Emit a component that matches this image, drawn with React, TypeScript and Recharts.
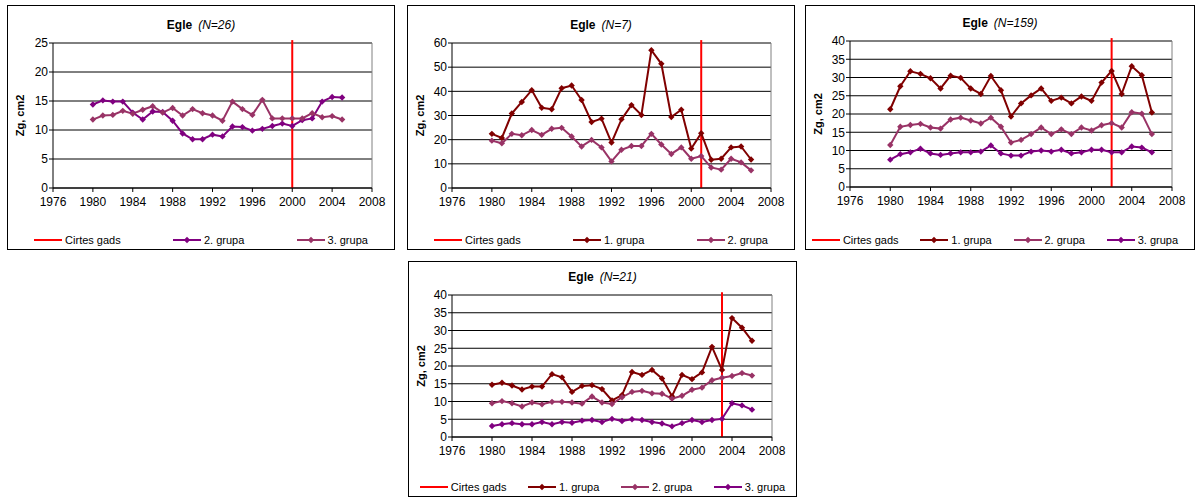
import { LineChart, Line, XAxis, YAxis, CartesianGrid, Legend, ReferenceLine } from 'recharts';

const FONT = 'Arial, "Liberation Sans", sans-serif';

const yearsTo2005 = [1980, 1981, 1982, 1983, 1984, 1985, 1986, 1987, 1988, 1989, 1990, 1991, 1992, 1993, 1994, 1995, 1996, 1997, 1998, 1999, 2000, 2001, 2002, 2003, 2004, 2005];
const yearsTo2006 = [1980, 1981, 1982, 1983, 1984, 1985, 1986, 1987, 1988, 1989, 1990, 1991, 1992, 1993, 1994, 1995, 1996, 1997, 1998, 1999, 2000, 2001, 2002, 2003, 2004, 2005, 2006];
const xTicks = [1976, 1980, 1984, 1988, 1992, 1996, 2000, 2004, 2008];

// Egle (N=26)
const n26Cut = 2000;
const n26YTicks = [0, 5, 10, 15, 20, 25];
const n26Group2 = [14.4, 15.1, 14.9, 14.9, 13.0, 11.8, 13.2, 13.1, 11.6, 9.4, 8.4, 8.4, 9.2, 8.9, 10.6, 10.5, 9.9, 10.2, 10.7, 11.1, 10.7, 11.7, 12.0, 14.9, 15.7, 15.6];
const n26Group3 = [11.8, 12.5, 12.6, 13.3, 12.8, 13.5, 14.1, 13.0, 13.8, 12.5, 13.6, 12.9, 12.5, 11.6, 14.9, 13.6, 12.6, 15.2, 12.0, 12.0, 12.0, 12.0, 12.9, 12.2, 12.4, 11.8];

// Egle (N=7)
const n7Cut = 2001;
const n7YTicks = [0, 10, 20, 30, 40, 50, 60];
const n7Group1 = [22.4, 20.7, 30.8, 35.6, 40.5, 33.2, 32.6, 41.3, 42.4, 36.4, 27.3, 28.7, 18.8, 28.4, 34.3, 30.2, 57.0, 51.4, 29.4, 32.4, 16.3, 22.7, 11.7, 12.1, 16.8, 17.2, 11.8];
const n7Group2 = [19.6, 18.5, 22.4, 21.8, 24.0, 22.0, 24.5, 24.9, 21.3, 17.2, 19.9, 16.8, 11.0, 15.8, 17.4, 17.4, 22.4, 18.0, 14.1, 16.8, 12.1, 13.2, 8.5, 7.6, 12.1, 10.6, 7.3];

// Egle (N=159)
const n159Cut = 2002;
const n159YTicks = [0, 5, 10, 15, 20, 25, 30, 35, 40];
const n159Group1 = [21.3, 27.6, 31.7, 31.0, 29.8, 27.0, 30.5, 29.9, 27.0, 25.5, 30.4, 26.5, 19.3, 22.9, 25.1, 27.0, 23.6, 24.5, 22.9, 24.8, 23.6, 28.6, 31.8, 25.5, 33.1, 30.6, 20.4];
const n159Group2 = [11.5, 16.5, 17.0, 17.3, 16.3, 16.0, 18.5, 19.0, 18.2, 17.4, 19.0, 16.5, 12.2, 12.9, 14.5, 16.3, 14.5, 15.8, 14.5, 16.3, 15.5, 16.9, 17.5, 16.3, 20.5, 20.1, 14.5];
const n159Group3 = [7.5, 9.0, 9.5, 10.5, 9.2, 8.8, 9.2, 9.5, 9.5, 9.7, 11.4, 9.2, 8.6, 8.6, 9.7, 10.0, 9.7, 10.2, 9.2, 9.5, 10.2, 10.2, 9.5, 9.5, 11.1, 10.8, 9.5];

// Egle (N=21)
const n21Cut = 2003;
const n21YTicks = [0, 5, 10, 15, 20, 25, 30, 35, 40];
const n21Group1 = [14.7, 15.3, 14.5, 13.4, 14.2, 14.2, 17.7, 16.8, 12.7, 14.4, 14.6, 13.5, 10.3, 11.8, 18.3, 17.5, 18.9, 16.5, 11.5, 17.5, 16.3, 18.2, 25.4, 18.9, 33.5, 30.8, 27.1];
const n21Group2 = [9.5, 10.1, 9.5, 8.6, 9.7, 9.2, 9.9, 9.9, 9.7, 9.4, 11.4, 9.7, 9.3, 11.2, 12.7, 13.0, 12.3, 12.2, 10.8, 11.6, 13.3, 13.9, 16.0, 16.7, 17.2, 18.0, 17.3];
const n21Group3 = [3.1, 3.6, 3.9, 3.6, 3.6, 4.2, 3.6, 4.2, 4.0, 4.6, 4.8, 4.2, 5.1, 4.5, 5.0, 4.8, 4.2, 3.8, 3.0, 3.9, 4.8, 4.2, 4.8, 5.1, 9.5, 8.9, 7.7];

const RED = '#ff0000';
const DARK_RED = '#800000';
const MAUVE = '#993366';
const PURPLE = '#800080';

const panels = [
  {
    n: 'N=26', cut: n26Cut, yTicks: n26YTicks, years: yearsTo2005,
    box: { x: 7, y: 5, w: 388, h: 245 }, plot: { x1: 53, y1: 43, x2: 372, y2: 188 }, legendY: 240, legendShift: 0,
    series: [
      { name: '2. grupa', values: n26Group2, color: PURPLE },
      { name: '3. grupa', values: n26Group3, color: MAUVE },
    ],
  },
  {
    n: 'N=7', cut: n7Cut, yTicks: n7YTicks, years: yearsTo2006,
    box: { x: 407, y: 5, w: 388, h: 245 }, plot: { x1: 452, y1: 43, x2: 771, y2: 188 }, legendY: 240, legendShift: 0,
    series: [
      { name: '1. grupa', values: n7Group1, color: DARK_RED },
      { name: '2. grupa', values: n7Group2, color: MAUVE },
    ],
  },
  {
    n: 'N=159', cut: n159Cut, yTicks: n159YTicks, years: yearsTo2006,
    box: { x: 805, y: 5, w: 390, h: 245 }, plot: { x1: 850, y1: 41, x2: 1172, y2: 187 }, legendY: 240, legendShift: -5,
    series: [
      { name: '1. grupa', values: n159Group1, color: DARK_RED },
      { name: '2. grupa', values: n159Group2, color: MAUVE },
      { name: '3. grupa', values: n159Group3, color: PURPLE },
    ],
  },
  {
    n: 'N=21', cut: n21Cut, yTicks: n21YTicks, years: yearsTo2006,
    box: { x: 408, y: 261, w: 389, h: 236 }, plot: { x1: 452, y1: 295, x2: 772, y2: 437 }, legendY: 487, legendShift: 0,
    series: [
      { name: '1. grupa', values: n21Group1, color: DARK_RED },
      { name: '2. grupa', values: n21Group2, color: MAUVE },
      { name: '3. grupa', values: n21Group3, color: PURPLE },
    ],
  },
];

const diamond = (props: any) => {
  const { cx, cy, stroke, index } = props;
  if (cx == null || cy == null) return <g key={index} />;
  const r = 3.2;
  return <path key={index} d={`M${cx},${cy - r}L${cx + r},${cy}L${cx},${cy + r}L${cx - r},${cy}Z`} fill={stroke} stroke="none" />;
};

const yLabel = (props: any) => {
  const vb = props.viewBox || { x: 0, y: 0, width: 0, height: 0 };
  const x = vb.x + 12;
  const y = vb.y + vb.height / 2;
  return (
    <text x={x} y={y} transform={`rotate(-90 ${x} ${y})`} textAnchor="middle" dominantBaseline="central"
      fontSize={11} fontWeight="bold" fontFamily={FONT} fill="#000">
      Zg, cm2
    </text>
  );
};

const LegendItems = ({ series }: { series: { name: string; color: string }[] }) => (
  <div style={{ display: 'flex', justifyContent: 'space-around', alignItems: 'center', height: 16, fontFamily: FONT, fontSize: 11, color: '#000' }}>
    <div style={{ display: 'flex', alignItems: 'center' }}>
      <svg width={28} height={8}><line x1={0} y1={4} x2={28} y2={4} stroke={RED} strokeWidth={2} /></svg>
      <span style={{ marginLeft: 3 }}>Cirtes gads</span>
    </div>
    {series.map((s) => (
      <div key={s.name} style={{ display: 'flex', alignItems: 'center' }}>
        <svg width={28} height={8}>
          <line x1={0} y1={4} x2={28} y2={4} stroke={s.color} strokeWidth={2} />
          <path d="M14,0.8L17.2,4L14,7.2L10.8,4Z" fill={s.color} />
        </svg>
        <span style={{ marginLeft: 3 }}>{s.name}</span>
      </div>
    ))}
  </div>
);

const Panel = ({ p }: { p: (typeof panels)[number] }) => {
  const innerW = p.box.w - 2;
  const innerH = p.box.h - 2;
  const ox = p.box.x + 1;
  const oy = p.box.y + 1;
  const yAxisW = p.plot.x1 - ox;
  const top = p.plot.y1 - oy;
  const right = innerW - (p.plot.x2 - ox);
  const bottomOff = innerH - (p.plot.y2 - oy);
  const legendH = 16;
  const legendBottom = innerH - (p.legendY - oy + legendH / 2);
  const xAxisH = bottomOff - legendH - legendBottom;
  const yMax = p.yTicks[p.yTicks.length - 1];
  const rows = p.years.map((year, i) => {
    const r: Record<string, number> = { year };
    p.series.forEach((s, k) => { r['s' + k] = s.values[i]; });
    return r;
  });
  const tick = { fontSize: 12, fill: '#000', fontFamily: FONT };

  return (
    <div style={{ position: 'absolute', left: p.box.x, top: p.box.y, width: p.box.w, height: p.box.h, border: '1px solid #000', boxSizing: 'border-box', background: '#fff' }}>
      <div style={{ position: 'absolute', left: 0, width: '100%', top: p.plot.y1 - 18 - oy - 8, height: 16, lineHeight: '16px', textAlign: 'center', fontFamily: FONT, fontSize: 12, color: '#000' }}>
        <b>Egle</b><i style={{ marginLeft: 6 }}>({p.n})</i>
      </div>
      <LineChart width={innerW} height={innerH} data={rows} margin={{ top, right, left: 0, bottom: legendBottom }}>
        <CartesianGrid vertical={false} stroke="#000" strokeWidth={1} />
        <ReferenceLine y={yMax} stroke="#808080" strokeWidth={1} />
        <ReferenceLine x={2008} stroke="#808080" strokeWidth={1} />
        <XAxis dataKey="year" type="number" domain={[1976, 2008]} ticks={xTicks} interval={0} height={xAxisH}
          tick={tick} tickSize={4} tickMargin={5} stroke="#000" axisLine={{ stroke: '#000' }} tickLine={{ stroke: '#000' }} />
        <YAxis type="number" domain={[0, yMax]} ticks={p.yTicks} interval={0} width={yAxisW}
          tick={tick} tickSize={4} tickMargin={1} axisLine={{ stroke: '#000' }} tickLine={{ stroke: '#000' }}
          label={{ content: yLabel }} />
        <ReferenceLine segment={[{ x: p.cut, y: 0 }, { x: p.cut, y: yMax * 1.02 }]} stroke={RED} strokeWidth={2} ifOverflow="visible" />
        {p.series.map((s, k) => (
          <Line key={s.name} type="linear" dataKey={'s' + k} name={s.name} stroke={s.color} strokeWidth={2}
            dot={diamond} activeDot={false} isAnimationActive={false} />
        ))}
        <Legend verticalAlign="bottom" height={legendH} width={innerW} wrapperStyle={{ left: p.legendShift, width: innerW }}
          content={() => <LegendItems series={p.series} />} />
      </LineChart>
    </div>
  );
};

export default function App() {
  return (
    <div style={{ position: 'absolute', left: 0, top: 0, width: 1197, height: 497, background: '#fff' }}>
      {panels.map((p) => <Panel key={p.n} p={p} />)}
    </div>
  );
}
